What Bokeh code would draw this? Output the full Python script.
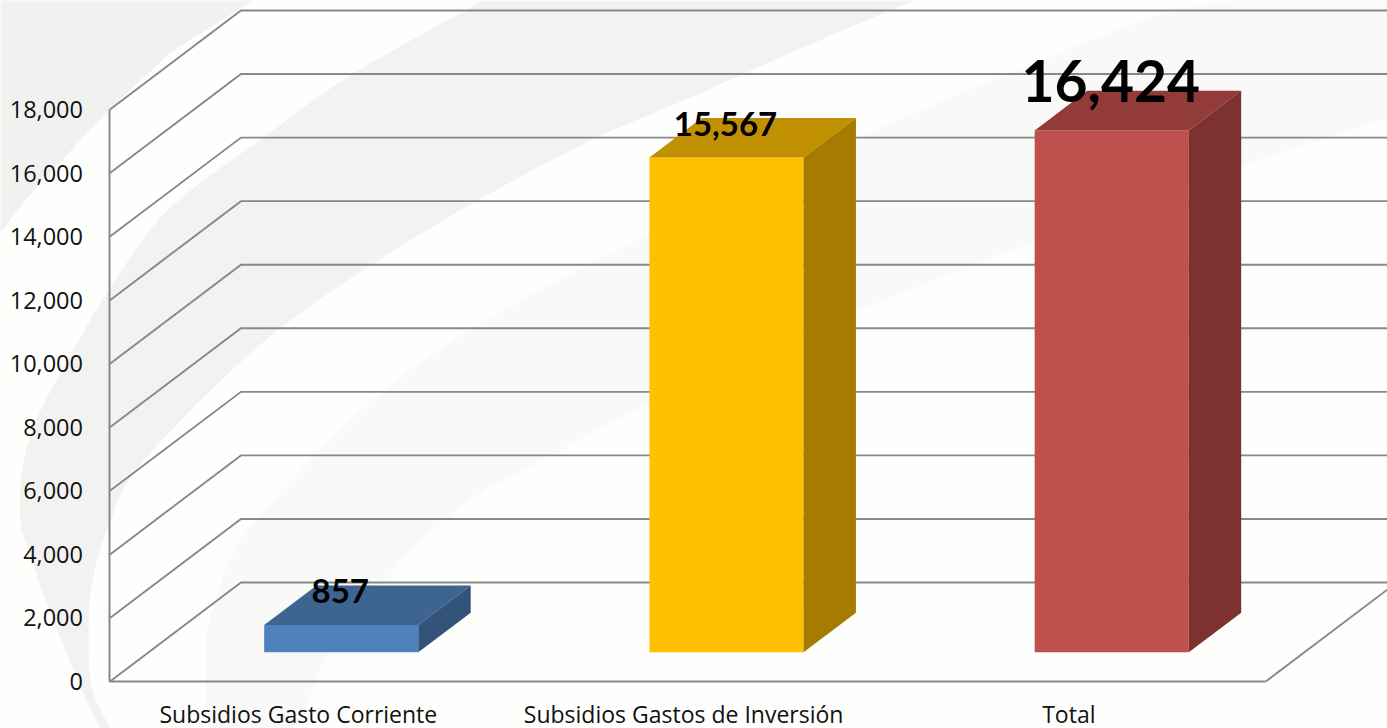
import numpy as np
from bokeh.core.properties import value
from bokeh.embed import file_html
from bokeh.models import FixedTicker, LinearAxis, NumeralTickFormatter, Range1d
from bokeh.plotting import figure
from bokeh.resources import INLINE

categories = ["Subsidios Gasto Corriente", "Subsidios Gastos de Inversión", "Total"]
series_values = [857, 15567, 16424]
value_labels = ["857", "15,567", "16,424"]
value_label_sizes = ["33px", "33px", "57px"]
tick_values = [0, 2000, 4000, 6000, 8000, 10000, 12000, 14000, 16000, 18000]
front_colors = ["#4f81bd", "#ffc000", "#c0504d"]
top_colors = ["#3e6491", "#c09000", "#923b39"]
side_colors = ["#335379", "#a67c00", "#7d3130"]

# watermark outlines, in picture pixels
corner = [(-5, -5), (253, -5), (253, 0), (170, 52), (108, 110), (33, 190), (-5, 238)]
crescent_outer = [(483, 0), (353, 73), (263, 137), (167, 210), (110, 287), (67, 360),
                  (37, 417), (22, 467), (20, 520), (27, 547), (50, 613), (83, 693), (100, 728)]
crescent_inner = [(110, 728), (92, 690), (88, 640), (92, 580), (110, 520), (133, 473), (200, 400),
                  (277, 330), (373, 263), (477, 200), (590, 140), (690, 97), (800, 48), (913, 0)]
light_upper = [(1230, 0), (1133, 23), (850, 140), (650, 233), (473, 327), (380, 393), (313, 457),
               (240, 540), (210, 617), (205, 667), (208, 728)]
light_lower = [(297, 728), (340, 633), (447, 517), (547, 457), (650, 403), (900, 293), (1200, 180), (1387, 118)]

# layout of the projection
FIG_W, FIG_H = 1387, 728
PX_PER_CAT = 385.25
CAT0_PX = 302.1
PX_PER_UNIT = 572.0 / 18000.0
ZERO_PY = 681.0
DEPTH_X = 131.0 / PX_PER_CAT
DEPTH_Y = 99.0 / PX_PER_UNIT
BAR_W = 0.4
FRONT, BACK = 0.295, 0.695
LABEL_SHIFT = -0.011


def to_x(px):
    return (np.asarray(px, dtype=float) - CAT0_PX) / PX_PER_CAT


def to_y(py):
    return (ZERO_PY - np.asarray(py, dtype=float)) / PX_PER_UNIT


def smooth(points, n=12):
    pts = np.array(points, dtype=float)
    pts = np.vstack([2 * pts[0] - pts[1], pts, 2 * pts[-1] - pts[-2]])
    out = []
    for k in range(1, len(pts) - 2):
        p0, p1, p2, p3 = pts[k - 1], pts[k], pts[k + 1], pts[k + 2]
        for t in np.linspace(0, 1, n, endpoint=False):
            out.append(0.5 * (2 * p1 + (p2 - p0) * t + (2 * p0 - 5 * p1 + 4 * p2 - p3) * t ** 2
                              + (3 * p1 - p0 - 3 * p2 + p3) * t ** 3))
    out.append(pts[-2])
    return np.array(out)


p = figure(width=FIG_W, height=FIG_H, output_backend="svg", toolbar_location=None,
           min_border=0, outline_line_color=None, background_fill_color="#fefefd",
           border_fill_color="#fefefd",
           x_range=Range1d(float(to_x(0)), float(to_x(FIG_W))),
           y_range=Range1d(float(to_y(FIG_H)), float(to_y(0))),
           x_axis_location=None, y_axis_location=None)
p.grid.visible = False

# watermark
corner_pts = np.array(corner)
p.patch(to_x(corner_pts[:, 0]), to_y(corner_pts[:, 1]), color="#f1f1f0", line_color=None)
b = np.vstack([smooth(crescent_outer), smooth(crescent_inner)])
p.patch(to_x(b[:, 0]), to_y(b[:, 1]), color="#f2f2f1", line_color=None)
c = np.vstack([smooth(light_upper), smooth(light_lower), [(1387, 0)]])
p.patch(to_x(c[:, 0]), to_y(c[:, 1]), color="#f9f9f8", line_color=None)

# walls
GRID = "#888888"
right_end = float(to_x(FIG_W))
for v in tick_values:
    p.line([-0.5, -0.5 + DEPTH_X, right_end], [v, v + DEPTH_Y, v + DEPTH_Y],
           line_color=GRID, line_width=1.9, line_join="miter")
p.line([2.5, 2.5 + DEPTH_X], [0, DEPTH_Y], line_color=GRID, line_width=1.9)

# bars
for i, v in enumerate(series_values):
    xl = i - BAR_W / 2
    xr = i + BAR_W / 2
    fx, fy = FRONT * DEPTH_X, FRONT * DEPTH_Y
    bx, by = BACK * DEPTH_X, BACK * DEPTH_Y
    p.patch([xl + fx, xr + fx, xr + fx, xl + fx], [fy, fy, v + fy, v + fy],
            color=front_colors[i], line_color=None)
    p.patch([xl + fx, xr + fx, xr + bx, xl + bx], [v + fy, v + fy, v + by, v + by],
            color=top_colors[i], line_color=None)
    p.patch([xr + fx, xr + bx, xr + bx, xr + fx], [fy, by, v + by, v + fy],
            color=side_colors[i], line_color=None)

# value labels
p.text(x=[i + FRONT * DEPTH_X for i in range(3)],
       y=[v + FRONT * DEPTH_Y for v in series_values],
       text=value_labels, text_font=value("Lato"), text_font_style="bold",
       text_font_size=value_label_sizes, text_color="#000000",
       text_align="center", text_baseline="middle",
       x_offset=[-1, -1, -1], y_offset=[-34, -34, -49])

# axes
ya = LinearAxis(fixed_location=-0.5, bounds=(0, 18000),
                ticker=FixedTicker(ticks=tick_values),
                formatter=NumeralTickFormatter(format="0,0"),
                axis_line_color=GRID, axis_line_width=2,
                major_tick_line_color=None, minor_tick_line_color=None,
                major_tick_in=0, major_tick_out=0,
                major_label_standoff=27,
                major_label_text_font="Open Sans", major_label_text_font_size="23.5px",
                major_label_text_color="#111111")
p.add_layout(ya, "left")

tick_pos = [i + LABEL_SHIFT for i in range(3)]
xa = LinearAxis(fixed_location=0, bounds=(-0.5, 2.5),
                ticker=FixedTicker(ticks=tick_pos),
                major_label_overrides={t: c_ for t, c_ in zip(tick_pos, categories)},
                axis_line_color=GRID, axis_line_width=2,
                major_tick_line_color=None, minor_tick_line_color=None,
                major_tick_in=0, major_tick_out=0,
                major_label_standoff=16,
                major_label_text_font="Open Sans", major_label_text_font_size="23px",
                major_label_text_color="#111111")
p.add_layout(xa, "below")

open("out.html", "w").write(file_html(p, INLINE))
